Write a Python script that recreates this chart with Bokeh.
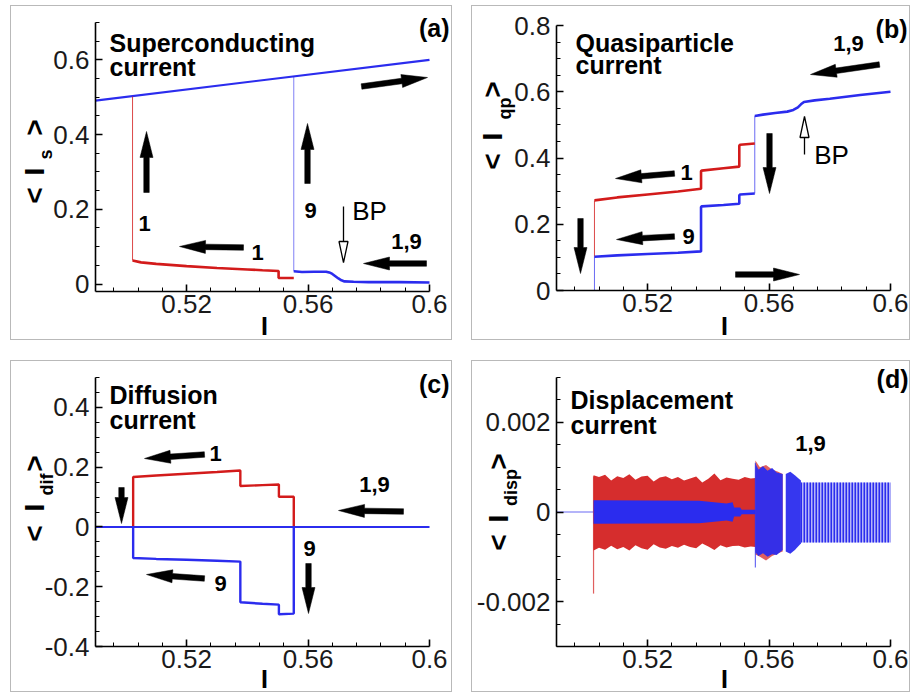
import math
from bokeh.plotting import figure
from bokeh.models import Range1d, FixedTicker, Label
from bokeh.layouts import column, row
from bokeh.embed import file_html
from bokeh.resources import INLINE

# ---------------- data ----------------
X_MAJOR = [0.52, 0.56, 0.6]
X_MAJOR_LABELS = ["0.52", "0.56", "0.6"]
X_MINOR = [0.496, 0.504, 0.512, 0.528, 0.536, 0.544, 0.552, 0.568, 0.576, 0.584, 0.592]

A_Y_MAJOR = [0.0, 0.2, 0.4, 0.6]
A_Y_LABELS = ["0", "0.2", "0.4", "0.6"]
B_Y_MAJOR = [0.0, 0.2, 0.4, 0.6, 0.8]
B_Y_LABELS = ["0", "0.2", "0.4", "0.6", "0.8"]
C_Y_MAJOR = [-0.4, -0.2, 0.0, 0.2, 0.4]
C_Y_LABELS = ["-0.4", "-0.2", "0", "0.2", "0.4"]
D_Y_MAJOR = [-0.002, 0.0, 0.002]
D_Y_LABELS = ["-0.002", "0", "0.002"]

# (a) superconducting current
A_SC_X = [0.490, 0.600]
A_SC_Y = [0.491, 0.600]
A_RED_X = [0.5553, 0.5503, 0.5503, 0.545, 0.540, 0.530, 0.520, 0.510, 0.505, 0.5022]
A_RED_Y = [0.016, 0.016, 0.035, 0.037, 0.039, 0.043, 0.048, 0.054, 0.058, 0.063]
A_RED_JUMP_X = [0.5022, 0.5022]
A_RED_JUMP_Y = [0.063, 0.502]
A_BLUE_X = [0.600, 0.590, 0.580, 0.575, 0.572, 0.571, 0.570, 0.569, 0.568, 0.567, 0.566, 0.562, 0.558, 0.5553]
A_BLUE_Y = [0.004, 0.005, 0.005, 0.006, 0.007, 0.010, 0.015, 0.021, 0.027, 0.031, 0.033, 0.033, 0.032, 0.034]
A_BLUE_JUMP_X = [0.5553, 0.5553]
A_BLUE_JUMP_Y = [0.034, 0.555]

# (b) quasiparticle current
B_TOP_X = [0.600, 0.590, 0.580, 0.575, 0.5715, 0.5705, 0.5695, 0.568, 0.566, 0.562, 0.558, 0.5553]
B_TOP_Y = [0.600, 0.590, 0.579, 0.574, 0.569, 0.562, 0.553, 0.545, 0.540, 0.536, 0.531, 0.527]
B_RED_X = [0.5553, 0.5505, 0.5502, 0.5502, 0.545, 0.5378, 0.5376, 0.5376, 0.530, 0.520, 0.510, 0.5025]
B_RED_Y = [0.444, 0.440, 0.437, 0.374, 0.369, 0.362, 0.360, 0.307, 0.299, 0.290, 0.281, 0.272]
B_BLUE_X = [0.5553, 0.5505, 0.5502, 0.5502, 0.545, 0.5378, 0.5376, 0.5376, 0.530, 0.520, 0.510, 0.5025]
B_BLUE_Y = [0.293, 0.290, 0.287, 0.262, 0.258, 0.254, 0.252, 0.118, 0.114, 0.110, 0.106, 0.102]
B_JUMP_X = [0.5553, 0.5553]
B_JUMP_Y = [0.527, 0.293]
B_RED_JUMP_X = [0.5025, 0.5025]
B_RED_JUMP_Y = [0.272, 0.102]
B_BLUE_JUMP_X = [0.5025, 0.5025]
B_BLUE_JUMP_Y = [0.102, 0.0]

# (c) diffusion current
C_ZERO_X = [0.490, 0.600]
C_ZERO_Y = [0.0, 0.0]
C_RED_X = [0.5553, 0.5553, 0.5504, 0.5504, 0.545, 0.5377, 0.5377, 0.530, 0.520, 0.510, 0.5024, 0.5024]
C_RED_Y = [0.0, 0.101, 0.101, 0.142, 0.140, 0.137, 0.189, 0.184, 0.178, 0.172, 0.167, 0.0]
C_BLUE_X = [0.5553, 0.5553, 0.5504, 0.5504, 0.545, 0.5377, 0.5377, 0.530, 0.520, 0.510, 0.5024, 0.5024]
C_BLUE_Y = [0.0, -0.290, -0.292, -0.260, -0.257, -0.252, -0.116, -0.113, -0.110, -0.107, -0.104, 0.0]

# (d) displacement current (oscillation envelopes)
D_FLAT_X = [0.490, 0.5022]
D_FLAT_Y = [0.0, 0.0]
D_RED_X = [0.5022, 0.504, 0.506, 0.508, 0.510, 0.512, 0.514, 0.516, 0.518, 0.520, 0.522, 0.524,
           0.526, 0.528, 0.530, 0.532, 0.534, 0.536, 0.538, 0.540, 0.542, 0.544, 0.546, 0.548,
           0.550, 0.552, 0.554, 0.5555]
D_RED_UP = [0.00082, 0.00078, 0.00083, 0.00070, 0.00080, 0.00076, 0.00084, 0.00072, 0.00079, 0.00081,
            0.00068, 0.00077, 0.00080, 0.00073, 0.00078, 0.00070, 0.00075, 0.00079, 0.00066, 0.00074,
            0.00086, 0.00071, 0.00077, 0.00074, 0.00072, 0.00078, 0.00075, 0.00076]
D_RED_LO = [-0.00086, -0.00080, -0.00084, -0.00075, -0.00083, -0.00078, -0.00086, -0.00074, -0.00081,
            -0.00084, -0.00072, -0.00079, -0.00082, -0.00076, -0.00080, -0.00073, -0.00078, -0.00081,
            -0.00070, -0.00077, -0.00085, -0.00074, -0.00079, -0.00076, -0.00075, -0.00079, -0.00077, -0.00078]
D_RED_SPIKE_X = [0.5022, 0.5022]
D_RED_SPIKE_Y = [-0.00182, 0.0008]
D_BIN_X = [0.5022, 0.537, 0.546, 0.548, 0.5485, 0.5505, 0.551, 0.5555]
D_BIN_UP = [0.00026, 0.00025, 0.00019, 0.00022, 0.00010, 0.00010, 0.00005, 0.00005]
D_BIN_LO = [-0.00026, -0.00025, -0.00019, -0.00022, -0.00010, -0.00010, -0.00005, -0.00005]
D_RED2_X = [0.5555, 0.557, 0.559, 0.561, 0.563, 0.5645]
D_RED2_UP = [0.00115, 0.00100, 0.00105, 0.00095, 0.00090, 0.00085]
D_RED2_LO = [-0.00095, -0.00100, -0.00108, -0.00098, -0.00092, -0.00088]
D_BBIG_X = [0.5555, 0.5565, 0.558, 0.5595, 0.561, 0.5625, 0.5645]
D_BBIG_UP = [0.00108, 0.00095, 0.00102, 0.00092, 0.00098, 0.00088, 0.00085]
D_BBIG_LO = [-0.00090, -0.00098, -0.00092, -0.00100, -0.00094, -0.00096, -0.00085]
D_BMID_X = [0.5655, 0.567, 0.5685, 0.5705]
D_BMID_UP = [0.00085, 0.00090, 0.00082, 0.00070]
D_BMID_LO = [-0.00088, -0.00093, -0.00085, -0.00070]
D_BSTR_X = [0.5705, 0.600]
D_BSTR_UP = [0.00066, 0.00066]
D_BSTR_LO = [-0.00068, -0.00068]
D_BLUE_SPIKE_X = [0.5555, 0.5555]
D_BLUE_SPIKE_Y = [-0.00124, 0.0011]

RED = "#d31b1b"
BLUE = "#2b2cee"
FONT = "Liberation Sans"

X_RANGE = (0.49, 0.60)
# global pixel box of each panel's axes: left, right, top, bottom, and its y extent
FRAMES = {
    "a": (94, 428, 21, 290, (-0.02, 0.70)),
    "b": (555, 889, 24, 289, (0.0, 0.80)),
    "c": (94, 428, 376, 645, (-0.40, 0.50)),
    "d": (555, 889, 376, 645, (-0.003, 0.003)),
}


def to_data(panel, gx, gy):
    L, R, T, B, (y0, y1) = FRAMES[panel]
    x0, x1 = X_RANGE
    return (x0 + (gx - L) / (R - L) * (x1 - x0), y1 - (gy - T) / (B - T) * (y1 - y0))


def make_fig(panel, ox, oy, w, h, margin, yticks, ylabels, yminor):
    yr = FRAMES[panel][4]
    xs, ye = to_data(panel, ox, oy)
    xe, ys = to_data(panel, ox + w, oy + h)
    p = figure(width=w, height=h, x_range=Range1d(xs, xe), y_range=Range1d(ys, ye),
               output_backend="svg", toolbar_location=None,
               min_border_left=0, min_border_right=0, min_border_top=0, min_border_bottom=0)
    p.margin = margin
    p.styles = {"border": "1.5px solid #b9b9b9", "box-sizing": "border-box"}
    p.outline_line_color = None
    p.grid.visible = False
    p.background_fill_color = "white"
    p.border_fill_color = "white"
    p.xaxis.fixed_location = yr[0]
    p.yaxis.fixed_location = X_RANGE[0]
    p.xaxis.bounds = X_RANGE
    p.yaxis.bounds = yr
    p.xaxis.ticker = FixedTicker(ticks=X_MAJOR, minor_ticks=X_MINOR)
    p.xaxis.major_label_overrides = dict(zip(X_MAJOR, X_MAJOR_LABELS))
    p.yaxis.ticker = FixedTicker(ticks=yticks, minor_ticks=yminor)
    p.yaxis.major_label_overrides = dict(zip(yticks, ylabels))
    for ax in (p.xaxis[0], p.yaxis[0]):
        ax.axis_line_color = "black"
        ax.axis_line_width = 1.6
        ax.major_tick_in = 7
        ax.major_tick_out = 0
        ax.minor_tick_in = 4
        ax.minor_tick_out = 0
        ax.major_tick_line_width = 1.6
        ax.minor_tick_line_width = 1.0
        ax.major_tick_line_color = "black"
        ax.minor_tick_line_color = "black"
        ax.major_label_text_font = FONT
        ax.major_label_text_font_size = "26px"
        ax.major_label_text_color = "#1a1a1a"
    p.xaxis.major_label_standoff = 3
    p.yaxis.major_label_standoff = 6
    return p


def lab(p, panel, gx, gy, text, size, bold=True, align="center", baseline="middle", angle=0.0):
    x, y = to_data(panel, gx, gy)
    p.add_layout(Label(x=x, y=y, text=text, text_font=FONT, text_font_size=f"{size}px",
                       text_font_style="bold" if bold else "normal", text_align=align,
                       text_baseline=baseline, angle=angle, text_color="black"))


def arrow(p, panel, tail, tip, w=5.5, hl=26, hw=13):
    (x0, y0), (x1, y1) = tail, tip
    L = math.hypot(x1 - x0, y1 - y0)
    ux, uy = (x1 - x0) / L, (y1 - y0) / L
    nx, ny = -uy, ux
    kx, ky = x1 - ux * hl, y1 - uy * hl
    pts = [(x0 + nx * w / 2, y0 + ny * w / 2), (kx + nx * w / 2, ky + ny * w / 2),
           (kx + nx * hw / 2, ky + ny * hw / 2), (x1, y1),
           (kx - nx * hw / 2, ky - ny * hw / 2), (kx - nx * w / 2, ky - ny * w / 2),
           (x0 - nx * w / 2, y0 - ny * w / 2)]
    d = [to_data(panel, a, b) for a, b in pts]
    p.patch([q[0] for q in d], [q[1] for q in d], fill_color="black", line_color="black", line_width=0.5)


def hollow_arrow(p, panel, tail, tip, hl=21, hw=9):
    (x0, y0), (x1, y1) = tail, tip
    L = math.hypot(x1 - x0, y1 - y0)
    ux, uy = (x1 - x0) / L, (y1 - y0) / L
    nx, ny = -uy, ux
    kx, ky = x1 - ux * hl, y1 - uy * hl
    s = [to_data(panel, x0, y0), to_data(panel, kx, ky)]
    p.line([q[0] for q in s], [q[1] for q in s], line_color="black", line_width=1.3)
    tri = [to_data(panel, kx + nx * hw / 2, ky + ny * hw / 2), to_data(panel, x1, y1),
           to_data(panel, kx - nx * hw / 2, ky - ny * hw / 2)]
    p.patch([q[0] for q in tri], [q[1] for q in tri], fill_color="white", line_color="black", line_width=1.3)


def ylabel(p, panel, parts):
    for text, gx, gy, size in parts:
        lab(p, panel, gx, gy, text, size, bold=True, angle=math.pi / 2)


def minor(lo, hi, step, majors):
    out, v = [], lo
    while v <= hi + 1e-12:
        if all(abs(v - m) > 1e-9 for m in majors):
            out.append(round(v, 6))
        v += step
    return out


# ---------------- panel (a) ----------------
pa = make_fig("a", 10, 5, 442, 335, (5, 0, 0, 10), A_Y_MAJOR, A_Y_LABELS, minor(0.0, 0.7, 0.05, A_Y_MAJOR))
pa.line(A_SC_X, A_SC_Y, line_color=BLUE, line_width=2.2)
pa.line(A_RED_JUMP_X, A_RED_JUMP_Y, line_color=RED, line_width=1.0, line_alpha=0.8)
pa.line(A_BLUE_JUMP_X, A_BLUE_JUMP_Y, line_color=BLUE, line_width=1.0, line_alpha=0.6)
pa.line(A_RED_X, A_RED_Y, line_color=RED, line_width=2.6)
pa.line(A_BLUE_X, A_BLUE_Y, line_color=BLUE, line_width=2.6)
lab(pa, "a", 108, 41, "Superconducting", 25, align="left", baseline="alphabetic")
lab(pa, "a", 108, 65, "current", 25, align="left", baseline="alphabetic")
lab(pa, "a", 448, 26, "(a)", 25, align="right")
arrow(pa, "a", (145, 191), (145, 130))
arrow(pa, "a", (306, 182), (306, 122))
arrow(pa, "a", (242, 246), (178, 245))
arrow(pa, "a", (425, 262), (362, 262))
arrow(pa, "a", (360, 85), (426, 76))
hollow_arrow(pa, "a", (342, 205), (342, 261))
lab(pa, "a", 143, 222, "1", 22)
lab(pa, "a", 309, 209, "9", 22)
lab(pa, "a", 256, 251, "1", 22)
lab(pa, "a", 405, 240, "1,9", 22)
lab(pa, "a", 368, 209, "BP", 26, bold=False)
lab(pa, "a", 263, 324, "I", 25)
ylabel(pa, "a", [("<", 33, 194, 28), ("I", 33, 170, 28), ("s", 44, 153, 18), (">", 33, 126, 28)])

# ---------------- panel (b) ----------------
pb = make_fig("b", 471, 5, 439, 335, (5, 0, 0, 19), B_Y_MAJOR, B_Y_LABELS, minor(0.0, 0.8, 0.05, B_Y_MAJOR))
pb.line(B_JUMP_X, B_JUMP_Y, line_color=BLUE, line_width=1.0, line_alpha=0.7)
pb.line(B_RED_JUMP_X, B_RED_JUMP_Y, line_color=RED, line_width=1.0, line_alpha=0.8)
pb.line(B_BLUE_JUMP_X, B_BLUE_JUMP_Y, line_color=BLUE, line_width=1.0, line_alpha=0.7)
pb.line(B_RED_X, B_RED_Y, line_color=RED, line_width=2.6)
pb.line(B_BLUE_X, B_BLUE_Y, line_color=BLUE, line_width=2.6)
pb.line(B_TOP_X, B_TOP_Y, line_color=BLUE, line_width=2.6)
lab(pb, "b", 574, 41, "Quasiparticle", 25, align="left", baseline="alphabetic")
lab(pb, "b", 574, 63, "current", 25, align="left", baseline="alphabetic")
lab(pb, "b", 906, 27, "(b)", 25, align="right")
lab(pb, "b", 847, 42, "1,9", 22)
arrow(pb, "b", (878, 63), (809, 73))
hollow_arrow(pb, "b", (803, 153), (803, 115))
lab(pb, "b", 830, 153, "BP", 26, bold=False)
lab(pb, "b", 685, 171, "1", 22)
arrow(pb, "b", (673, 172), (614, 177))
lab(pb, "b", 687, 235, "9", 22)
arrow(pb, "b", (673, 235), (615, 238))
arrow(pb, "b", (579, 217), (579, 272))
arrow(pb, "b", (768, 132), (768, 192))
arrow(pb, "b", (734, 273), (798, 273))
lab(pb, "b", 723, 324, "I", 25)
ylabel(pb, "b", [("<", 491, 160, 28), ("I", 491, 135, 28), ("qp", 503, 107, 18), (">", 491, 88, 28)])

# ---------------- panel (c) ----------------
pc = make_fig("c", 10, 360, 442, 332, (20, 0, 0, 10), C_Y_MAJOR, C_Y_LABELS, minor(-0.4, 0.5, 0.05, C_Y_MAJOR))
pc.line(C_RED_X, C_RED_Y, line_color=RED, line_width=2.4)
pc.line(C_BLUE_X, C_BLUE_Y, line_color=BLUE, line_width=2.4)
pc.line(C_ZERO_X, C_ZERO_Y, line_color=BLUE, line_width=2.0)
lab(pc, "c", 108, 393, "Diffusion", 25, align="left", baseline="alphabetic")
lab(pc, "c", 108, 418, "current", 25, align="left", baseline="alphabetic")
lab(pc, "c", 448, 382, "(c)", 25, align="right")
lab(pc, "c", 214, 452, "1", 22)
arrow(pc, "c", (203, 453), (143, 457))
lab(pc, "c", 373, 483, "1,9", 22)
arrow(pc, "c", (402, 510), (337, 509))
arrow(pc, "c", (120, 486), (120, 522))
lab(pc, "c", 308, 547, "9", 22)
arrow(pc, "c", (307, 562), (307, 612))
lab(pc, "c", 219, 582, "9", 22)
arrow(pc, "c", (203, 577), (145, 573))
lab(pc, "c", 263, 677, "I", 25)
ylabel(pc, "c", [("<", 33, 532, 28), ("I", 33, 506, 28), ("dif", 45, 483, 18), (">", 33, 462, 28)])

# ---------------- panel (d) ----------------
pd_ = make_fig("d", 471, 360, 439, 332, (20, 0, 0, 19), D_Y_MAJOR, D_Y_LABELS, minor(-0.003, 0.003, 0.0005, D_Y_MAJOR))
pd_.line(D_FLAT_X, D_FLAT_Y, line_color=BLUE, line_width=1.2, line_alpha=0.7)
pd_.varea(x=D_RED_X, y1=D_RED_LO, y2=D_RED_UP, fill_color=RED, fill_alpha=0.92)
pd_.line(D_RED_SPIKE_X, D_RED_SPIKE_Y, line_color=RED, line_width=1.2, line_alpha=0.7)
pd_.varea(x=D_BIN_X, y1=D_BIN_LO, y2=D_BIN_UP, fill_color=BLUE, fill_alpha=1.0)
pd_.varea(x=D_RED2_X, y1=D_RED2_LO, y2=D_RED2_UP, fill_color=RED, fill_alpha=0.7)
pd_.varea(x=D_BBIG_X, y1=D_BBIG_LO, y2=D_BBIG_UP, fill_color=BLUE, fill_alpha=0.95)
pd_.varea(x=D_BMID_X, y1=D_BMID_LO, y2=D_BMID_UP, fill_color=BLUE, fill_alpha=0.95)
pd_.varea(x=D_BSTR_X, y1=D_BSTR_LO, y2=D_BSTR_UP, fill_color=BLUE, fill_alpha=0.35,
          hatch_pattern="vertical_line", hatch_color=BLUE, hatch_scale=3, hatch_weight=2)
pd_.line(D_BLUE_SPIKE_X, D_BLUE_SPIKE_Y, line_color=BLUE, line_width=1.2, line_alpha=0.7)
lab(pd_, "d", 569, 398, "Displacement", 25, align="left", baseline="alphabetic")
lab(pd_, "d", 569, 423, "current", 25, align="left", baseline="alphabetic")
lab(pd_, "d", 907, 377, "(d)", 25, align="right")
lab(pd_, "d", 809, 442, "1,9", 22)
lab(pd_, "d", 723, 677, "I", 25)
ylabel(pd_, "d", [("<", 497, 541, 28), ("I", 497, 517, 28), ("disp", 509, 486, 18), (">", 497, 460, 28)])

layout = column(row(pa, pb), row(pc, pd_))
open("out.html", "w").write(file_html(layout, INLINE))
